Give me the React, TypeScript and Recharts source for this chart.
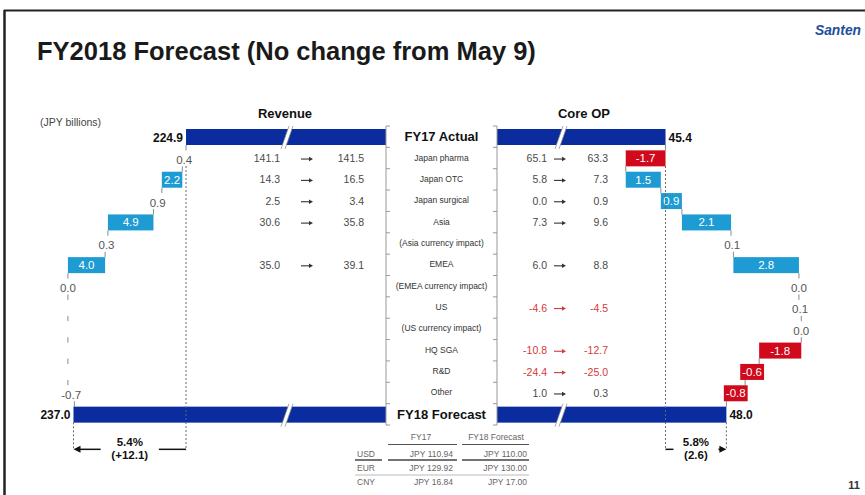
import React from "react";
import { Bar, BarChart, ReferenceLine, XAxis, YAxis } from "recharts";

// rows of the bridge, top to bottom
const categories = [
  "FY17 Actual",
  "Japan pharma",
  "Japan OTC",
  "Japan surgical",
  "Asia",
  "(Asia currency impact)",
  "EMEA",
  "(EMEA currency impact)",
  "US",
  "(US currency impact)",
  "HQ SGA",
  "R&D",
  "Other",
  "FY18 Forecast",
];

const revenueTotals = [224.9, 237.0];
const revenueDeltas = [0.4, 2.2, 0.9, 4.9, 0.3, 4.0, 0.0, null, null, null, null, -0.7];
const revenueFY17 = [141.1, 14.3, 2.5, 30.6, null, 35.0, null, null, null, null, null, null];
const revenueFY18 = [141.5, 16.5, 3.4, 35.8, null, 39.1, null, null, null, null, null, null];
const revenueChange = ["5.4%", "(+12.1)"];

const coreOpTotals = [45.4, 48.0];
const coreOpDeltas = [-1.7, 1.5, 0.9, 2.1, 0.1, 2.8, 0.0, 0.1, 0.0, -1.8, -0.6, -0.8];
const coreOpFY17 = [65.1, 5.8, 0.0, 7.3, null, 6.0, null, -4.6, null, -10.8, -24.4, 1.0];
const coreOpFY18 = [63.3, 7.3, 0.9, 9.6, null, 8.8, null, -4.5, null, -12.7, -25.0, 0.3];
const coreOpChange = ["5.8%", "(2.6)"];

const currencies = ["USD", "EUR", "CNY"];
const fxFY17 = [110.94, 129.92, 16.84];
const fxFY18 = [110.0, 130.0, 17.0];

const NAVY = "#0b2c9e";
const CYAN = "#1e9bd3";
const RED = "#d0091d";
const FONT = "'Liberation Sans', Arial, sans-serif";

const TOP = 126;
const PLOT_H = 299;
const PITCH = PLOT_H / categories.length;
const BAR = 16;
const REV_DOMAIN: [number, number] = [203.4, 240.6];
const OP_DOMAIN: [number, number] = [38.2, 52.0];

type Row = {
  name: string;
  range: [number, number];
  delta: number | null;
  kind: "total" | "up" | "down" | "none";
  last?: boolean;
};

function buildBridge(totals: number[], deltas: (number | null)[], axisMin: number): Row[] {
  let run = totals[0];
  const out: Row[] = [{ name: categories[0], range: [axisMin, totals[0]], delta: totals[0], kind: "total" }];
  deltas.forEach((d, i) => {
    const start = run;
    run = Math.round((run + (d ?? 0)) * 10) / 10;
    out.push({
      name: categories[i + 1],
      range: [Math.min(start, run), Math.max(start, run)],
      delta: d,
      kind: d == null ? "none" : d >= 0 ? "up" : "down",
    });
  });
  out.push({ name: categories[13], range: [axisMin, totals[1]], delta: totals[1], kind: "total", last: true });
  return out;
}

const revenueData = buildBridge(revenueTotals, revenueDeltas, REV_DOMAIN[0]);
const coreOpData = buildBridge(coreOpTotals, coreOpDeltas, OP_DOMAIN[0]);

const textWidth = (s: string, size: number) =>
  s.split("").reduce((w, c) => w + (c === "." ? 0.278 : c === "-" ? 0.333 : 0.556), 0) * size;

function makeBarShape(reversed: boolean, breakOffset: number) {
  return (props: any) => {
    const { x, y, width, height, payload } = props;
    const left = Math.min(x, x + width);
    const right = Math.max(x, x + width);
    const w = right - left;
    const hiX = reversed ? left : right;
    const loX = reversed ? right : left;
    const endX = payload.kind === "down" ? loX : hiX;
    const bottom = y + height;
    const cy = y + height / 2;
    const parts: React.ReactNode[] = [];

    if (!payload.last) {
      parts.push(
        <line key="c" x1={endX} x2={endX} y1={bottom} y2={bottom + PITCH - BAR} stroke="#8a8a8a" strokeWidth={1} />
      );
    }

    if (payload.kind === "total") {
      const sx = loX + (reversed ? -breakOffset : breakOffset);
      parts.push(<rect key="r" x={left} y={y} width={w} height={height} fill={NAVY} />);
      parts.push(
        <polygon
          key="s"
          points={`${sx + 2},${y - 3} ${sx + 6},${y - 3} ${sx - 2},${bottom + 4} ${sx - 6},${bottom + 4}`}
          fill="#fff"
        />
      );
      parts.push(<line key="s1" x1={sx + 2} y1={y - 3} x2={sx - 6} y2={bottom + 4} stroke="#888" strokeWidth={0.7} />);
      parts.push(<line key="s2" x1={sx + 6} y1={y - 3} x2={sx - 2} y2={bottom + 4} stroke="#888" strokeWidth={0.7} />);
      parts.push(
        <text
          key="t"
          x={reversed ? hiX - 3 : hiX + 3}
          y={cy + 4.5}
          textAnchor={reversed ? "end" : "start"}
          fontSize={12}
          fontWeight={700}
          fill="#111"
        >
          {payload.delta.toFixed(1)}
        </text>
      );
    } else if (payload.delta != null) {
      const label = payload.delta.toFixed(1);
      const mid = (left + right) / 2;
      if (w >= 12) {
        const bw = Math.max(w, textWidth(label, 11.5) + 4);
        parts.push(
          <rect key="r" x={mid - bw / 2} y={y} width={bw} height={height} fill={payload.kind === "down" ? RED : CYAN} />
        );
        parts.push(
          <text key="t" x={mid} y={cy + 4} textAnchor="middle" fontSize={11.5} fill="#fff">
            {label}
          </text>
        );
      } else {
        parts.push(
          <text key="t" x={mid} y={cy + 5.5} textAnchor="middle" fontSize={11.5} fill="#555">
            {label}
          </text>
        );
      }
    }
    return <g>{parts}</g>;
  };
}

// dotted guide from the row below the FY17 bar down past the FY18 bar
const dottedFromTop = (props: any) => {
  const { x1, y1, y2 } = props;
  return (
    <line x1={x1} x2={x1} y1={y1 + PITCH + BAR / 2} y2={y2 + 36} stroke="#666" strokeWidth={1} strokeDasharray="2 2" />
  );
};

const dottedShort = (props: any) => {
  const { x1, y1, y2 } = props;
  return (
    <line x1={x1} x2={x1} y1={y1 + BAR / 2} y2={y2 + 36} stroke="#666" strokeWidth={1} strokeDasharray="2 2" />
  );
};

function makeArrowShape(texts: string[]) {
  return (props: any) => {
    const { x1, x2, y1 } = props;
    const yy = y1 + 35;
    const mid = (x1 + x2) / 2;
    const dir = Math.sign(x2 - x1);
    const gap = Math.max(...texts.map((t) => t.length)) * 3.3 + 6;
    return (
      <g>
        <line x1={x1} x2={mid - dir * gap} y1={yy} y2={yy} stroke="#111" strokeWidth={1.5} />
        <line x1={mid + dir * gap} x2={x2 - dir * 6} y1={yy} y2={yy} stroke="#111" strokeWidth={1.5} />
        <polygon points={`${x2},${yy} ${x2 - dir * 7},${yy - 3.5} ${x2 - dir * 7},${yy + 3.5}`} fill="#111" />
        <text x={mid} y={yy - 3} textAnchor="middle" fontSize={11.5} fontWeight={700} fill="#111">
          {texts[0]}
        </text>
        <text x={mid} y={yy + 10} textAnchor="middle" fontSize={11.5} fontWeight={700} fill="#111">
          {texts[1]}
        </text>
      </g>
    );
  };
}

const fmt = (v: number) => v.toFixed(1);

const SmallArrow = ({ cx, cy, color }: { cx: number; cy: number; color: string }) => (
  <g>
    <line x1={cx - 6} x2={cx + 3} y1={cy} y2={cy} stroke={color} strokeWidth={1.1} />
    <polygon points={`${cx + 6},${cy} ${cx + 2},${cy - 2.2} ${cx + 2},${cy + 2.2}`} fill={color} />
  </g>
);

function boundaryTicks(x: number, y: number, index: number, dir: number) {
  const top = y - PITCH / 2;
  return (
    <>
      <line x1={x} x2={x + dir * 4} y1={top} y2={top} stroke="#999" />
      {index === categories.length - 1 && (
        <line x1={x} x2={x + dir * 4} y1={y + PITCH / 2} y2={y + PITCH / 2} stroke="#999" />
      )}
    </>
  );
}

const LeftTick = (props: any) => {
  const { x, y } = props;
  const index = props.index ?? props.payload?.index ?? 0;
  const isTotal = index === 0 || index === categories.length - 1;
  const a = index > 0 ? revenueFY17[index - 1] : null;
  const b = index > 0 ? revenueFY18[index - 1] : null;
  const color = "#4a4a4a";
  return (
    <g>
      {boundaryTicks(x, y, index, 1)}
      <text
        x={x + 55.5}
        y={y + (isTotal ? 4.5 : 2.5)}
        textAnchor="middle"
        fontSize={isTotal ? 13 : 8.5}
        fontWeight={isTotal ? 700 : 400}
        fill={isTotal ? "#111" : "#333"}
      >
        {categories[index]}
      </text>
      {a != null && b != null && (
        <g fontSize={10.5} fill={color}>
          <text x={x - 106} y={y + 4} textAnchor="end">{fmt(a)}</text>
          <SmallArrow cx={x - 79} cy={y + 1} color="#333" />
          <text x={x - 22} y={y + 4} textAnchor="end">{fmt(b)}</text>
        </g>
      )}
    </g>
  );
};

const RightTick = (props: any) => {
  const { x, y } = props;
  const index = props.index ?? props.payload?.index ?? 0;
  const a = index > 0 ? coreOpFY17[index - 1] : null;
  const b = index > 0 ? coreOpFY18[index - 1] : null;
  const negative = a != null && b != null && (a < 0 || b < 0);
  const color = negative ? "#d43a3a" : "#4a4a4a";
  return (
    <g>
      {boundaryTicks(x, y, index, -1)}
      {a != null && b != null && (
        <g fontSize={10.5} fill={color}>
          <text x={x + 50} y={y + 4} textAnchor="end">{fmt(a)}</text>
          <SmallArrow cx={x + 63} cy={y + 1} color={negative ? color : "#333"} />
          <text x={x + 111} y={y + 4} textAnchor="end">{fmt(b)}</text>
        </g>
      )}
    </g>
  );
};

function PageText() {
  const rowY = [456.5, 471, 485];
  return (
    <svg width={865} height={495} style={{ position: "absolute", left: 0, top: 0 }} fontFamily={FONT}>
      <line x1={4.5} x2={4.5} y1={10} y2={495} stroke="#222" strokeWidth={2.5} />
      <line x1={4} x2={865} y1={10.5} y2={10.5} stroke="#222" strokeWidth={2} />
      <text x={37} y={60} fontSize={25.5} fontWeight={700} fill="#1a1a1a">
        FY2018 Forecast (No change from May 9)
      </text>
      <text
        x={815}
        y={35}
        fontSize={15}
        fontWeight={700}
        fontStyle="italic"
        fill="#1f4e9c"
        textLength={46}
        lengthAdjust="spacingAndGlyphs"
      >
        Santen
      </text>
      <text x={40} y={126} fontSize={10.5} fill="#444">(JPY billions)</text>
      <text x={285} y={118} fontSize={13} fontWeight={700} textAnchor="middle" fill="#111">Revenue</text>
      <text x={584} y={118} fontSize={13} fontWeight={700} textAnchor="middle" fill="#111">Core OP</text>
      <text x={860} y={489} fontSize={11} fontWeight={700} textAnchor="end" fill="#333">11</text>

      <g fontSize={8.5} fill="#666">
        <text x={421} y={440} textAnchor="middle">FY17</text>
        <text x={496} y={440} textAnchor="middle">FY18 Forecast</text>
        {currencies.map((c, i) => (
          <g key={c}>
            <text x={366} y={rowY[i]} textAnchor="middle">{c}</text>
            <text x={453} y={rowY[i]} textAnchor="end">JPY {fxFY17[i].toFixed(2)}</text>
            <text x={527} y={rowY[i]} textAnchor="end">JPY {fxFY18[i].toFixed(2)}</text>
          </g>
        ))}
      </g>
      <line x1={388} x2={457} y1={444.5} y2={444.5} stroke="#555" />
      <line x1={462} x2={529} y1={444.5} y2={444.5} stroke="#555" />
      <line x1={355} x2={382} y1={460} y2={460} stroke="#444" strokeWidth={1.5} />
      <line x1={388} x2={457} y1={460} y2={460} stroke="#444" strokeWidth={1.5} />
      <line x1={462} x2={529} y1={460} y2={460} stroke="#444" strokeWidth={1.5} />
      <line x1={355} x2={529} y1={475} y2={475} stroke="#bbb" />
    </svg>
  );
}

export default function App() {
  return (
    <div
      style={{
        position: "absolute",
        left: 0,
        top: 0,
        width: 865,
        height: 495,
        background: "#fff",
        overflow: "hidden",
        fontFamily: FONT,
      }}
    >
      <PageText />
      <div style={{ position: "absolute", left: 0, top: 0 }}>
        <BarChart
          width={497}
          height={495}
          data={revenueData}
          layout="vertical"
          barSize={BAR}
          margin={{ top: TOP, right: 0, bottom: 495 - TOP - PLOT_H, left: 40 }}
        >
          <XAxis type="number" domain={REV_DOMAIN} reversed hide allowDataOverflow />
          <YAxis
            type="category"
            dataKey="name"
            orientation="right"
            width={111}
            interval={0}
            tickLine={false}
            tickSize={0}
            tickMargin={0}
            axisLine={{ stroke: "#999" }}
            tick={(p: any) => <LeftTick {...p} />}
          />
          <Bar dataKey="range" isAnimationActive={false} shape={makeBarShape(true, 99)} />
          <ReferenceLine
            ifOverflow="visible"
            segment={[
              { x: revenueTotals[0], y: categories[0] },
              { x: revenueTotals[0], y: categories[13] },
            ]}
            shape={dottedFromTop}
          />
          <ReferenceLine
            ifOverflow="visible"
            segment={[
              { x: revenueTotals[1], y: categories[13] },
              { x: revenueTotals[1], y: categories[13] },
            ]}
            shape={dottedShort}
          />
          <ReferenceLine
            ifOverflow="visible"
            segment={[
              { x: revenueTotals[0], y: categories[13] },
              { x: revenueTotals[1], y: categories[13] },
            ]}
            shape={makeArrowShape(revenueChange)}
          />
        </BarChart>
      </div>
      <div style={{ position: "absolute", left: 386, top: 0 }}>
        <BarChart
          width={479}
          height={495}
          data={coreOpData}
          layout="vertical"
          barSize={BAR}
          margin={{ top: TOP, right: 45, bottom: 495 - TOP - PLOT_H, left: 0 }}
        >
          <XAxis type="number" domain={OP_DOMAIN} hide allowDataOverflow />
          <YAxis
            type="category"
            dataKey="name"
            orientation="left"
            width={111}
            interval={0}
            tickLine={false}
            tickSize={0}
            tickMargin={0}
            axisLine={{ stroke: "#999" }}
            tick={(p: any) => <RightTick {...p} />}
          />
          <Bar dataKey="range" isAnimationActive={false} shape={makeBarShape(false, 64)} />
          <ReferenceLine
            ifOverflow="visible"
            segment={[
              { x: coreOpTotals[0], y: categories[0] },
              { x: coreOpTotals[0], y: categories[13] },
            ]}
            shape={dottedFromTop}
          />
          <ReferenceLine
            ifOverflow="visible"
            segment={[
              { x: coreOpTotals[1], y: categories[13] },
              { x: coreOpTotals[1], y: categories[13] },
            ]}
            shape={dottedShort}
          />
          <ReferenceLine
            ifOverflow="visible"
            segment={[
              { x: coreOpTotals[0], y: categories[13] },
              { x: coreOpTotals[1], y: categories[13] },
            ]}
            shape={makeArrowShape(coreOpChange)}
          />
        </BarChart>
      </div>
    </div>
  );
}
